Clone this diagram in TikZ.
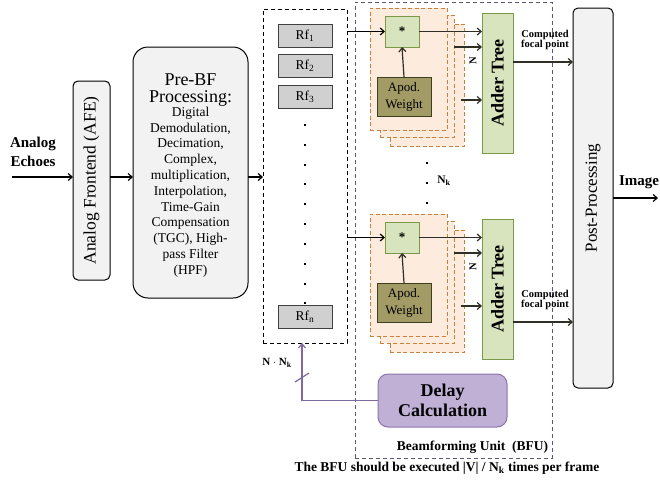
\documentclass[tikz,border=0pt]{standalone}
\usepackage{fontspec}
\setmainfont{Liberation Serif}
\usetikzlibrary{arrows.meta,calc}
\definecolor{boxgray}{HTML}{F2F2F2}
\definecolor{rfgray}{HTML}{D0D0D0}
\definecolor{bfuline}{HTML}{5F5575}
\definecolor{cardfill}{HTML}{FDEBDD}
\definecolor{carddraw}{HTML}{C8803A}
\definecolor{greenfill}{HTML}{D7E4BD}
\definecolor{greendraw}{HTML}{7A9A4A}
\definecolor{apodfill}{HTML}{A39B65}
\definecolor{apoddraw}{HTML}{3F3F1F}
\definecolor{delayfill}{HTML}{C0B0D6}
\definecolor{delaydraw}{HTML}{8C73AD}
\definecolor{delayline}{HTML}{7F6A9F}
\definecolor{darkarr}{HTML}{2F2F25}
\newcommand{\fs}[2]{\fontsize{#1}{#2}\selectfont}
\begin{document}
\begin{tikzpicture}[x=1pt,y=-1pt,
  every node/.style={inner sep=0pt, outer sep=0pt},
  roundbox/.style={draw, fill=boxgray, line width=1pt, rounded corners=5pt},
  rfbox/.style={draw=black!75, fill=rfgray, line width=0.9pt, minimum width=54pt, minimum height=23pt, font=\fs{13.5}{14}},
  card/.style={draw=carddraw, fill=cardfill, dashed, dash pattern=on 4pt off 2.5pt, line width=1pt},
  greenbox/.style={draw=greendraw, fill=greenfill, line width=1pt},
  apodbox/.style={draw=apoddraw, fill=apodfill, line width=1pt, align=center, font=\fs{13}{17}},
  arr/.style={-{Straight Barb[length=4pt,width=7pt]}, line width=1.2pt},
  darr/.style={-{Straight Barb[length=4pt,width=7pt]}, line width=1.2pt, draw=darkarr},
  dotmark/.style={fill=black, minimum size=2.8pt},
  blab/.style={font=\bfseries\fs{10.5}{10.5}, align=center}
]
\useasboundingbox (0,0) rectangle (660,482);

% left part
\node[font=\bfseries\fs{15}{19}, align=center] (echo) at (33,152) {Analog\\Echoes};
\coordinate (in) at (12,177);
\node[roundbox, minimum width=37pt, minimum height=199pt] (afe) at (91.5,180.5) {};
\node[rotate=90, font=\fs{17.5}{18}] (afetxt) at (afe.center) {Analog Frontend (AFE)};
\node[roundbox, rounded corners=15pt, minimum width=115pt, minimum height=251pt] (prebf) at (190.5,172.5) {};
\node[font=\fs{18}{17}, align=center] (prebfh) at (190.5,90) {Pre-BF\\Processing:};
\node[font=\fs{13.5}{15.8}, align=center] (prebft) at (190.5,192) {Digital\\Demodulation,\\Decimation,\\Complex,\\multiplication,\\Interpolation,\\Time-Gain\\Compensation\\(TGC), High-\\pass Filter\\(HPF)};

% Rf column
\node[draw, dashed, dash pattern=on 4pt off 3pt, line width=0.9pt, minimum width=84pt, minimum height=334pt] (rfcol) at (305,176) {};
\node[rfbox] (rf1) at (305,35.5) {Rf\textsubscript{1}};
\node[rfbox] (rf2) at (305,65.5) {Rf\textsubscript{2}};
\node[rfbox] (rf3) at (305,96.5) {Rf\textsubscript{3}};
\node[rfbox] (rfn) at (305,316.5) {Rf\textsubscript{n}};
\foreach \yy in {125,145,165,184,204,224,244,264,284,303}
  \node[dotmark] at (305,\yy) {};

\draw[arr] (in) -- (in -| afe.west);
\draw[arr] (afe.east |- in) -- (prebf.west |- in);
\draw[arr] (prebf.east |- in) -- (rfcol.west |- in);

% BFU
\node[draw=bfuline, dashed, dash pattern=on 4pt off 3pt, line width=0.9pt, minimum width=197pt, minimum height=456pt] (bfu) at (453.5,230) {};
\node[font=\bfseries\fs{13.5}{14}, anchor=east] (bfulab) at (548,447) {Beamforming Unit\ \ (BFU)};

% Post processing
\node[roundbox, minimum width=40pt, minimum height=380pt] (post) at (593,198) {};
\node[rotate=90, font=\fs{17}{18}] (posttxt) at (post.center) {Post-Processing};
\coordinate (imgend) at (658,198);
\draw[arr] (post.east) -- (imgend);
\node[font=\bfseries\fs{15}{17}] (imglab) at (639,182) {Image};

% groups
\foreach \dy/\nm in {0/a,206/b}{
  \node[card, minimum width=74pt, minimum height=122pt] (c3\nm) at (427,85+\dy) {};
  \node[card, minimum width=74pt, minimum height=122pt] (c2\nm) at (417,76+\dy) {};
  \node[card, minimum width=77pt, minimum height=122pt] (c1\nm) at (408.5,69+\dy) {};
  \node[greenbox, minimum width=34pt, minimum height=31pt, font=\bfseries\fs{13}{14}] (st\nm) at (402,31.5+\dy) {*};
  \node[apodbox, minimum width=54pt, minimum height=39pt] (ap\nm) at (404,96.5+\dy) {Apod.\\Weight};
  \node[greenbox, minimum width=31pt, minimum height=140pt] (ad\nm) at (497.5,83+\dy) {};
  \node[rotate=90, font=\bfseries\fs{18}{18}] (adt\nm) at (ad\nm.center) {Adder Tree};
  \draw[darr] (ap\nm.north) -- (st\nm.south);
  \draw[arr] (rfcol.east |- st\nm.west) -- (st\nm.west);
  \draw[darr] (st\nm.east) -- (st\nm.east -| ad\nm.west);
  \coordinate (p2\nm) at (454,47+\dy);
  \coordinate (p3\nm) at (461,100+\dy);
  \draw[darr] (p2\nm) -- (p2\nm -| ad\nm.west);
  \draw[darr] (p3\nm) -- (p3\nm -| ad\nm.west);
  \node[rotate=90, font=\bfseries\fs{10.5}{11}] (n\nm) at (473,61+\dy) {N};
}
\coordinate (cfa) at (513,62);
\coordinate (cfb) at (513,322);
\draw[darr] (cfa) -- (cfa -| post.west);
\draw[darr] (cfb) -- (cfb -| post.west);
\node[blab] (cfla) at (545,40) {Computed\\focal point};
\node[blab] (cflb) at (545,300) {Computed\\focal point};

% Nk dots
\foreach \yy in {163,183,203}
  \node[dotmark] at (427,\yy) {};
\node[font=\bfseries\fs{11.5}{12}] (nk) at (444,181) {N\textsubscript{k}};

% Delay calculation
\node[draw=delaydraw, fill=delayfill, line width=1pt, rounded corners=10pt, minimum width=129pt, minimum height=53pt, align=center, font=\bfseries\fs{18}{20.5}] (delay) at (442.5,400.5) {Delay\\Calculation};
\draw[-{Straight Barb[length=4pt,width=7pt]}, line width=1.2pt, draw=delayline] (delay.west) -| ([xshift=-3pt]rfcol.south);
\draw[line width=1.2pt, draw=delayline] (295,382) -- (309,373);
\node[font=\bfseries\fs{11}{12}] (nnk) at (277,363) {N $\cdot$ N\textsubscript{k}};

% caption
\node[font=\bfseries\fs{13.5}{14}] (cap) at (447,468) {The BFU should be executed |V| / N\textsubscript{k} times per frame};
\end{tikzpicture}
\end{document}
